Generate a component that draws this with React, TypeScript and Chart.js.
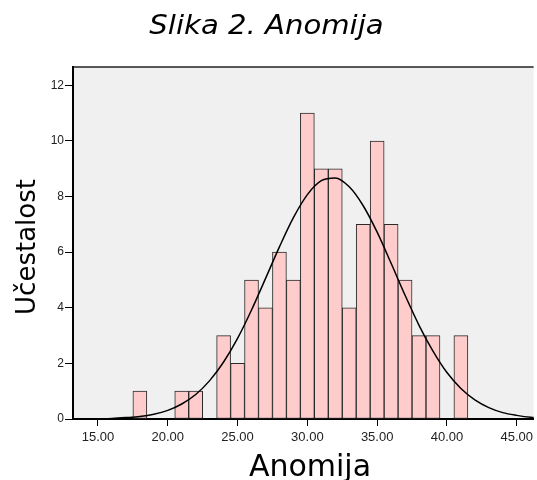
import React, { useEffect, useRef } from "react";
import { Chart, registerables } from "chart.js";

Chart.register(...registerables);

// Histogram bins (bin centers, width 1) and frequencies
const binCenters = [18, 21, 22, 24, 25, 26, 27, 28, 29, 30, 31, 32, 33, 34, 35, 36, 37, 38, 39, 41];
const counts = [1, 1, 1, 3, 2, 5, 4, 6, 5, 11, 9, 9, 4, 7, 10, 7, 5, 3, 3, 3];

// Normal curve
const curveX = [13, 14, 15, 16, 17, 18, 19, 20, 21, 22, 23, 24, 25, 26, 27, 28, 29, 30, 31, 32, 33, 34, 35, 36, 37, 38, 39, 40, 41, 42, 43, 44, 45, 46, 47];
const curveY = [0.002, 0.004, 0.01, 0.02, 0.05, 0.09, 0.17, 0.31, 0.54, 0.88, 1.38, 2.05, 2.9, 3.92, 5.05, 6.19, 7.24, 8.07, 8.57, 8.67, 8.35, 7.67, 6.72, 5.6, 4.45, 3.37, 2.44, 1.67, 1.1, 0.69, 0.41, 0.23, 0.13, 0.06, 0.03];

const xTicks = [15, 20, 25, 30, 35, 40, 45];
const yTicks = [0, 2, 4, 6, 8, 10, 12];

const titleText = "Slika 2. Anomija";
const xTitle = "Anomija";
const yTitle = "Učestalost";

const framePlugin = {
  id: "frame",
  beforeDraw(chart: any) {
    const { ctx, chartArea } = chart;
    ctx.save();
    ctx.fillStyle = "#f0f0f0";
    ctx.fillRect(chartArea.left, chartArea.top, chartArea.right - chartArea.left, chartArea.bottom - chartArea.top);
    ctx.strokeStyle = "#222";
    ctx.lineWidth = 1.5;
    ctx.beginPath();
    ctx.moveTo(chartArea.left, chartArea.top);
    ctx.lineTo(chartArea.right, chartArea.top);
    ctx.stroke();
    ctx.restore();
  },
  afterDraw(chart: any) {
    const { ctx } = chart;
    ctx.save();
    ctx.fillStyle = "#000";
    ctx.textAlign = "center";
    ctx.textBaseline = "alphabetic";
    // main title (slightly wide lettering, as in the original)
    ctx.save();
    ctx.translate(266.5, 33.5);
    ctx.scale(1.12, 1);
    ctx.font = "oblique 26px 'DejaVu Sans'";
    ctx.fillText(titleText, 0, 0);
    ctx.restore();
    // x axis title
    ctx.font = "30px 'DejaVu Sans'";
    ctx.fillText(xTitle, 310, 476);
    // y axis title
    ctx.translate(35, 247);
    ctx.rotate(-Math.PI / 2);
    ctx.font = "26px 'DejaVu Sans'";
    ctx.fillText(yTitle, 0, 0);
    ctx.restore();
  },
};

export default function App() {
  const ref = useRef<HTMLCanvasElement>(null);
  useEffect(() => {
    if (!ref.current) return;
    const chart = new Chart(ref.current, {
      type: "bar",
      data: {
        datasets: [
          {
            type: "line",
            data: curveX.map((x, i) => ({ x, y: curveY[i] })),
            borderColor: "#000",
            borderWidth: 1.5,
            pointRadius: 0,
            cubicInterpolationMode: "monotone",
            fill: false,
            order: 0,
          } as any,
          {
            type: "bar",
            data: binCenters.map((x, i) => ({ x, y: counts[i] })),
            backgroundColor: "#ffcccc",
            borderColor: "#2a2a2a",
            borderWidth: 1,
            borderSkipped: false,
            barPercentage: 1,
            categoryPercentage: 1,
            order: 1,
          } as any,
        ],
      },
      options: {
        animation: false,
        responsive: false,
        devicePixelRatio: 1,
        layout: { padding: { top: 67, left: 0, right: 0, bottom: 0 } },
        plugins: { legend: { display: false }, tooltip: { enabled: false }, title: { display: false } },
        scales: {
          x: {
            type: "linear",
            offset: false,
            min: 13.21,
            max: 46.21,
            afterBuildTicks: (s: any) => {
              s.ticks = xTicks.map((v) => ({ value: v }));
            },
            afterFit: (s: any) => {
              s.height = 61;
            },
            grid: { display: true, drawOnChartArea: false, drawTicks: true, tickLength: 7, color: "#000", offset: false },
            border: { display: true, color: "#000", width: 2 },
            ticks: {
              color: "#222",
              padding: 4,
              maxRotation: 0,
              autoSkip: false,
              font: { family: "'Liberation Sans', Arial, sans-serif", size: 13 },
              callback: (v: any) => Number(v).toFixed(2),
            },
            title: { display: false },
          },
          y: {
            type: "linear",
            min: 0,
            max: 12.66,
            afterBuildTicks: (s: any) => {
              s.ticks = yTicks.map((v) => ({ value: v }));
            },
            afterFit: (s: any) => {
              s.width = 73;
            },
            grid: { display: true, drawOnChartArea: false, drawTicks: true, tickLength: 8, color: "#000" },
            border: { display: true, color: "#000", width: 2 },
            ticks: {
              color: "#222",
              padding: 1,
              font: { family: "'Liberation Sans', Arial, sans-serif", size: 12 },
              callback: (v: any) => String(v),
            },
            title: { display: false },
          },
        },
      },
      plugins: [framePlugin],
    });
    return () => chart.destroy();
  }, []);
  return (
    <div style={{ position: "absolute", left: 0, top: 0, width: 537, height: 480 }}>
      <canvas ref={ref} width={537} height={480} />
    </div>
  );
}
